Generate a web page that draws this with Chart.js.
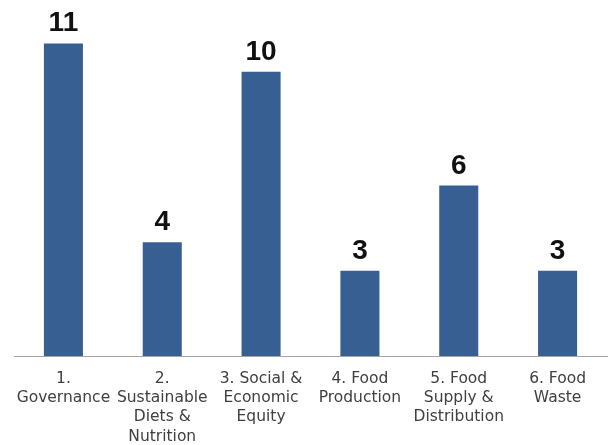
<!DOCTYPE html>
<html>
<head>
<meta charset="utf-8">
<script src="https://cdn.jsdelivr.net/npm/chart.js@4"></script>
<style>
  html, body { margin: 0; padding: 0; background: #fff; }
  #wrap { width: 611px; height: 445px; }
</style>
</head>
<body>
<div id="wrap"><canvas id="chart"></canvas></div>
<script>
const categories = [
    ["1.", "Governance"],
    ["2.", "Sustainable", "Diets &", "Nutrition"],
    ["3. Social &", "Economic", "Equity"],
    ["4. Food", "Production"],
    ["5. Food", "Supply &", "Distribution"],
    ["6. Food", "Waste"]
];
const counts = [11, 4, 10, 3, 6, 3];

// draws the number above each bar
const valueLabels = {
    id: "valueLabels",
    afterDatasetsDraw(chart) {
        const ctx = chart.ctx;
        const meta = chart.getDatasetMeta(0);
        ctx.save();
        ctx.font = "bold 28px 'Liberation Sans'";
        ctx.fillStyle = "#111";
        ctx.textAlign = "center";
        ctx.textBaseline = "alphabetic";
        meta.data.forEach((bar, i) => {
            ctx.fillText(counts[i], bar.x, bar.y - 12);
        });
        ctx.restore();
    }
};

new Chart(document.getElementById("chart").getContext("2d"), {
    type: "bar",
    data: {
        labels: categories,
        datasets: [{
            data: counts,
            backgroundColor: "#375f92",
            borderWidth: 0,
            barPercentage: 1,
            categoryPercentage: 0.395
        }]
    },
    options: {
        responsive: true,
        maintainAspectRatio: false,
        animation: false,
        layout: {padding: {left: 14, right: 4, top: 15, bottom: 0}},
        plugins: {legend: {display: false}, tooltip: {enabled: false}},
        scales: {
            x: {
                afterFit: (scale) => { scale.height = 89; },
                grid: {display: false},
                border: {display: true, color: "#a5a5a5", width: 1},
                ticks: {
                    color: "#404040",
                    padding: 5,
                    maxRotation: 0,
                    autoSkip: false,
                    font: {family: "'DejaVu Sans'", size: 15.5, lineHeight: 1.25}
                }
            },
            y: {display: false, min: 0, max: 12}
        }
    },
    plugins: [valueLabels]
});
</script>
</body>
</html>
